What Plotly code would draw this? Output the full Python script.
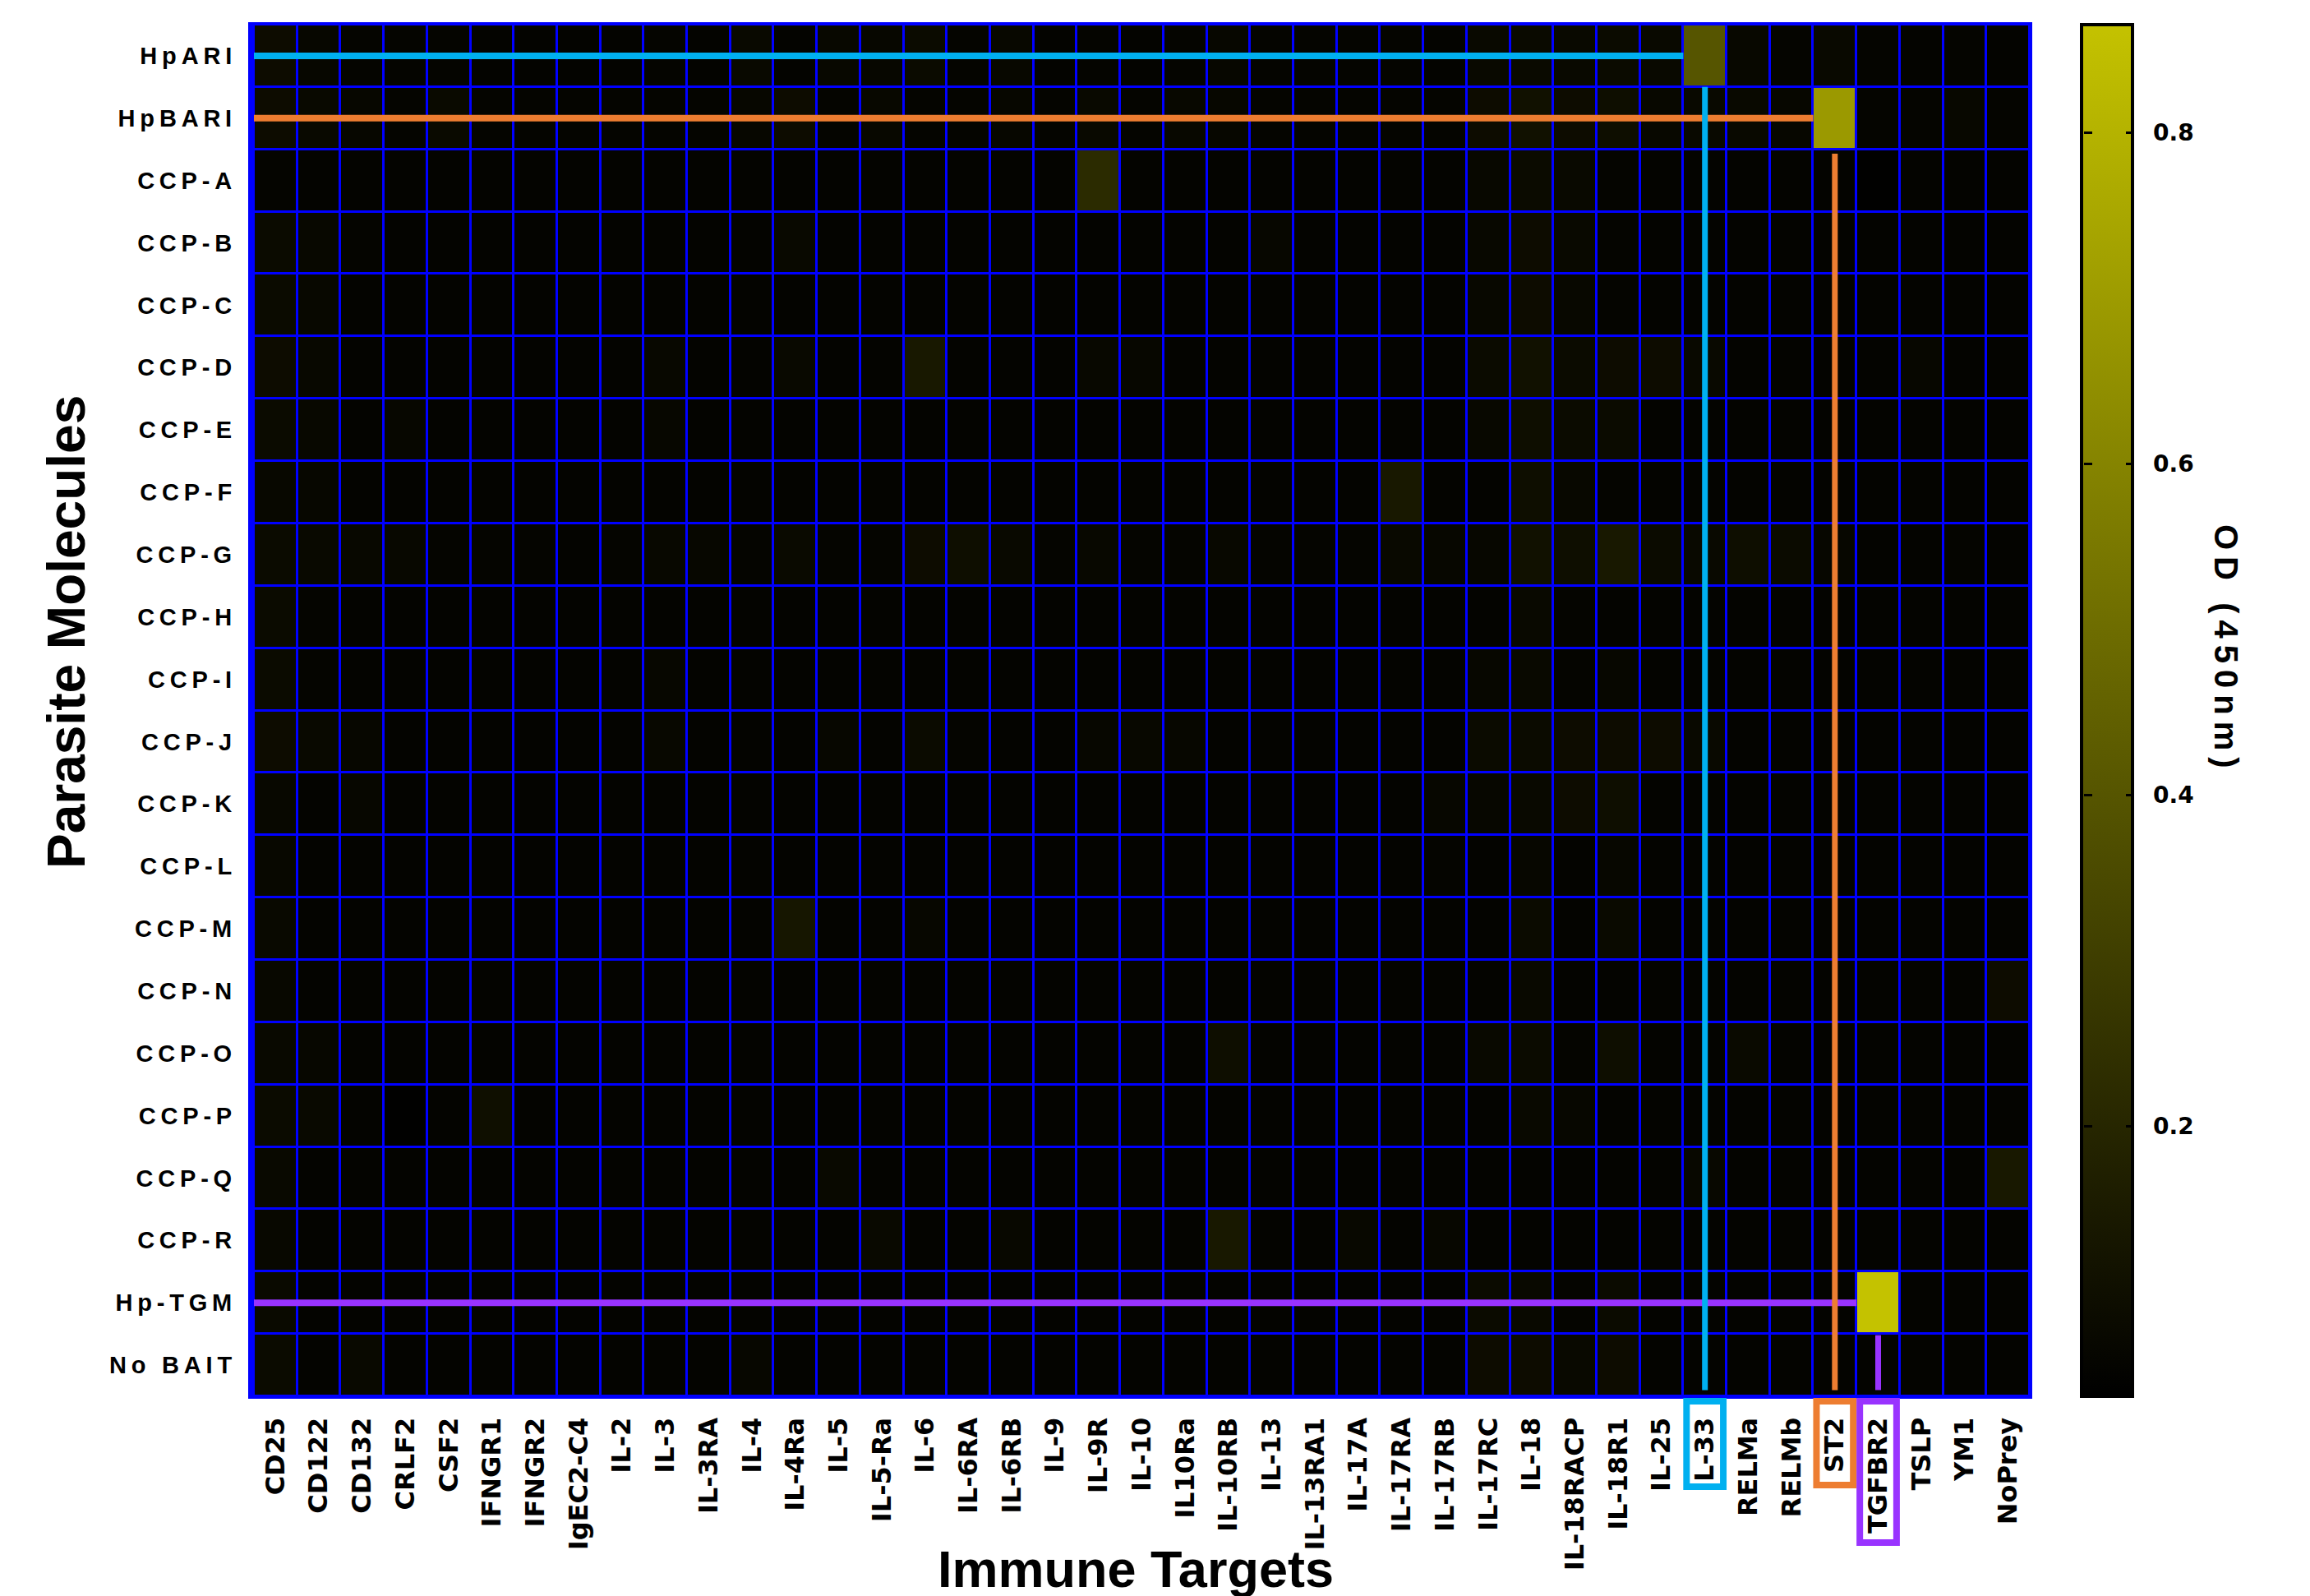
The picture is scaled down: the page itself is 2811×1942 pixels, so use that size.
import plotly.graph_objects as go

# Parasite bait molecules (rows) and immune prey targets (columns)
molecules = [
    "HpARI", "HpBARI", "CCP-A", "CCP-B", "CCP-C", "CCP-D", "CCP-E", "CCP-F",
    "CCP-G", "CCP-H", "CCP-I", "CCP-J", "CCP-K", "CCP-L", "CCP-M", "CCP-N",
    "CCP-O", "CCP-P", "CCP-Q", "CCP-R", "Hp-TGM", "No BAIT",
]
targets = [
    "CD25", "CD122", "CD132", "CRLF2", "CSF2", "IFNGR1", "IFNGR2", "IgEC2-C4",
    "IL-2", "IL-3", "IL-3RA", "IL-4", "IL-4Ra", "IL-5", "IL-5-Ra", "IL-6",
    "IL-6RA", "IL-6RB", "IL-9", "IL-9R", "IL-10", "IL10Ra", "IL-10RB", "IL-13",
    "IL-13RA1", "IL-17A", "IL-17RA", "IL-17RB", "IL-17RC", "IL-18", "IL-18RACP",
    "IL-18R1", "IL-25", "IL-33", "RELMa", "RELMb", "ST2", "TGFBR2", "TSLP",
    "YM1", "NoPrey",
]

# OD (450nm) readings, one list per bait, in target order
od_hpari = [0.090, 0.065, 0.060, 0.060, 0.060, 0.055, 0.055, 0.055, 0.055, 0.060,
            0.055, 0.075, 0.055, 0.070, 0.065, 0.085, 0.060, 0.070, 0.055, 0.060,
            0.055, 0.060, 0.065, 0.060, 0.060, 0.060, 0.060, 0.055, 0.075, 0.080,
            0.075, 0.085, 0.075, 0.400, 0.070, 0.060, 0.075, 0.060, 0.055, 0.060, 0.055]
od_hpbari = [0.090, 0.075, 0.065, 0.060, 0.080, 0.060, 0.060, 0.060, 0.060, 0.060,
             0.060, 0.065, 0.090, 0.060, 0.070, 0.060, 0.060, 0.065, 0.060, 0.075,
             0.060, 0.070, 0.065, 0.060, 0.060, 0.060, 0.060, 0.060, 0.090, 0.110,
             0.090, 0.095, 0.070, 0.075, 0.075, 0.065, 0.690, 0.060, 0.060, 0.070, 0.060]
od_ccp_a = [0.060, 0.055, 0.055, 0.055, 0.055, 0.055, 0.055, 0.055, 0.055, 0.055,
            0.055, 0.055, 0.055, 0.055, 0.055, 0.055, 0.055, 0.055, 0.055, 0.220,
            0.055, 0.055, 0.055, 0.055, 0.055, 0.055, 0.055, 0.055, 0.070, 0.085,
            0.075, 0.060, 0.055, 0.055, 0.055, 0.055, 0.055, 0.040, 0.055, 0.055, 0.055]
od_ccp_b = [0.085, 0.070, 0.060, 0.055, 0.055, 0.055, 0.055, 0.055, 0.055, 0.055,
            0.055, 0.055, 0.075, 0.055, 0.055, 0.055, 0.055, 0.055, 0.055, 0.055,
            0.055, 0.055, 0.055, 0.065, 0.055, 0.055, 0.055, 0.055, 0.070, 0.090,
            0.075, 0.060, 0.055, 0.055, 0.055, 0.055, 0.055, 0.055, 0.055, 0.055, 0.055]
od_ccp_c = [0.085, 0.070, 0.055, 0.055, 0.055, 0.055, 0.055, 0.055, 0.055, 0.055,
            0.055, 0.055, 0.055, 0.055, 0.055, 0.055, 0.055, 0.055, 0.055, 0.055,
            0.055, 0.055, 0.055, 0.055, 0.055, 0.055, 0.055, 0.055, 0.070, 0.090,
            0.070, 0.060, 0.055, 0.055, 0.055, 0.055, 0.055, 0.055, 0.055, 0.055, 0.055]
od_ccp_d = [0.090, 0.070, 0.055, 0.055, 0.055, 0.055, 0.055, 0.055, 0.055, 0.070,
            0.055, 0.055, 0.075, 0.055, 0.055, 0.140, 0.055, 0.055, 0.055, 0.070,
            0.065, 0.055, 0.055, 0.055, 0.055, 0.055, 0.055, 0.055, 0.085, 0.110,
            0.085, 0.090, 0.090, 0.075, 0.055, 0.055, 0.055, 0.055, 0.065, 0.055, 0.055]
od_ccp_e = [0.085, 0.070, 0.055, 0.065, 0.055, 0.055, 0.055, 0.055, 0.055, 0.065,
            0.055, 0.055, 0.055, 0.055, 0.055, 0.055, 0.055, 0.055, 0.055, 0.055,
            0.055, 0.055, 0.055, 0.055, 0.055, 0.055, 0.055, 0.055, 0.070, 0.095,
            0.085, 0.085, 0.055, 0.055, 0.055, 0.055, 0.055, 0.055, 0.055, 0.055, 0.055]
od_ccp_f = [0.070, 0.065, 0.055, 0.055, 0.055, 0.055, 0.055, 0.055, 0.055, 0.055,
            0.055, 0.055, 0.055, 0.055, 0.055, 0.055, 0.055, 0.055, 0.055, 0.055,
            0.055, 0.055, 0.055, 0.055, 0.055, 0.055, 0.140, 0.055, 0.055, 0.095,
            0.070, 0.060, 0.055, 0.055, 0.055, 0.055, 0.055, 0.055, 0.055, 0.055, 0.055]
od_ccp_g = [0.085, 0.075, 0.070, 0.070, 0.060, 0.060, 0.060, 0.055, 0.060, 0.070,
            0.065, 0.060, 0.080, 0.060, 0.060, 0.090, 0.095, 0.075, 0.060, 0.070,
            0.060, 0.060, 0.070, 0.060, 0.060, 0.060, 0.075, 0.065, 0.065, 0.110,
            0.095, 0.140, 0.085, 0.075, 0.095, 0.085, 0.065, 0.055, 0.055, 0.060, 0.055]
od_ccp_h = [0.085, 0.060, 0.055, 0.055, 0.055, 0.055, 0.055, 0.055, 0.055, 0.055,
            0.055, 0.055, 0.055, 0.055, 0.055, 0.055, 0.055, 0.055, 0.055, 0.055,
            0.055, 0.055, 0.055, 0.055, 0.055, 0.055, 0.055, 0.055, 0.055, 0.075,
            0.060, 0.055, 0.055, 0.055, 0.055, 0.055, 0.055, 0.055, 0.055, 0.055, 0.055]
od_ccp_i = [0.085, 0.060, 0.055, 0.055, 0.055, 0.055, 0.055, 0.055, 0.055, 0.065,
            0.055, 0.055, 0.055, 0.055, 0.055, 0.055, 0.055, 0.055, 0.055, 0.055,
            0.055, 0.055, 0.055, 0.055, 0.055, 0.055, 0.055, 0.055, 0.065, 0.075,
            0.060, 0.065, 0.055, 0.055, 0.055, 0.055, 0.055, 0.055, 0.055, 0.055, 0.055]
od_ccp_j = [0.090, 0.075, 0.065, 0.055, 0.055, 0.055, 0.055, 0.055, 0.055, 0.070,
            0.055, 0.055, 0.055, 0.065, 0.055, 0.085, 0.060, 0.055, 0.055, 0.065,
            0.070, 0.065, 0.055, 0.055, 0.055, 0.055, 0.055, 0.055, 0.085, 0.085,
            0.090, 0.090, 0.090, 0.075, 0.055, 0.055, 0.055, 0.055, 0.055, 0.055, 0.055]
od_ccp_k = [0.070, 0.055, 0.065, 0.055, 0.055, 0.055, 0.055, 0.055, 0.055, 0.055,
            0.055, 0.055, 0.055, 0.055, 0.055, 0.055, 0.055, 0.055, 0.055, 0.055,
            0.055, 0.055, 0.055, 0.055, 0.055, 0.055, 0.055, 0.065, 0.065, 0.075,
            0.090, 0.095, 0.055, 0.055, 0.055, 0.055, 0.055, 0.055, 0.055, 0.055, 0.055]
od_ccp_l = [0.070, 0.055, 0.055, 0.055, 0.055, 0.055, 0.055, 0.055, 0.055, 0.055,
            0.055, 0.055, 0.055, 0.055, 0.055, 0.055, 0.055, 0.055, 0.055, 0.055,
            0.055, 0.055, 0.055, 0.055, 0.055, 0.055, 0.055, 0.060, 0.055, 0.065,
            0.055, 0.065, 0.055, 0.055, 0.055, 0.055, 0.055, 0.055, 0.055, 0.055, 0.055]
od_ccp_m = [0.075, 0.055, 0.055, 0.055, 0.055, 0.055, 0.055, 0.055, 0.055, 0.055,
            0.055, 0.055, 0.130, 0.055, 0.055, 0.065, 0.055, 0.055, 0.055, 0.055,
            0.055, 0.055, 0.055, 0.055, 0.055, 0.055, 0.055, 0.055, 0.055, 0.085,
            0.055, 0.080, 0.055, 0.055, 0.055, 0.055, 0.055, 0.055, 0.055, 0.055, 0.055]
od_ccp_n = [0.070, 0.055, 0.055, 0.055, 0.055, 0.055, 0.055, 0.055, 0.055, 0.055,
            0.055, 0.055, 0.055, 0.055, 0.055, 0.055, 0.055, 0.055, 0.055, 0.055,
            0.055, 0.055, 0.055, 0.055, 0.055, 0.055, 0.055, 0.055, 0.055, 0.075,
            0.055, 0.055, 0.055, 0.055, 0.055, 0.055, 0.055, 0.055, 0.055, 0.055, 0.090]
od_ccp_o = [0.075, 0.065, 0.055, 0.055, 0.055, 0.055, 0.055, 0.055, 0.055, 0.055,
            0.055, 0.055, 0.055, 0.055, 0.055, 0.055, 0.055, 0.055, 0.055, 0.055,
            0.055, 0.055, 0.095, 0.055, 0.055, 0.055, 0.055, 0.055, 0.075, 0.085,
            0.060, 0.095, 0.055, 0.055, 0.080, 0.055, 0.055, 0.055, 0.055, 0.055, 0.055]
od_ccp_p = [0.085, 0.075, 0.055, 0.040, 0.055, 0.100, 0.055, 0.055, 0.055, 0.055,
            0.055, 0.055, 0.055, 0.055, 0.055, 0.055, 0.055, 0.055, 0.055, 0.055,
            0.055, 0.055, 0.055, 0.055, 0.055, 0.055, 0.055, 0.055, 0.055, 0.075,
            0.065, 0.055, 0.055, 0.055, 0.055, 0.055, 0.055, 0.055, 0.055, 0.055, 0.055]
od_ccp_q = [0.075, 0.055, 0.055, 0.055, 0.055, 0.055, 0.055, 0.055, 0.055, 0.055,
            0.055, 0.055, 0.055, 0.075, 0.055, 0.055, 0.055, 0.055, 0.055, 0.055,
            0.055, 0.055, 0.055, 0.055, 0.055, 0.055, 0.055, 0.055, 0.055, 0.055,
            0.055, 0.055, 0.055, 0.070, 0.055, 0.055, 0.055, 0.055, 0.055, 0.055, 0.140]
od_ccp_r = [0.070, 0.055, 0.055, 0.055, 0.055, 0.055, 0.055, 0.055, 0.055, 0.055,
            0.055, 0.055, 0.055, 0.055, 0.075, 0.055, 0.055, 0.070, 0.055, 0.055,
            0.055, 0.055, 0.140, 0.055, 0.055, 0.070, 0.055, 0.065, 0.055, 0.055,
            0.055, 0.055, 0.055, 0.055, 0.055, 0.055, 0.055, 0.055, 0.055, 0.055, 0.055]
od_hp_tgm = [0.080, 0.055, 0.055, 0.055, 0.055, 0.055, 0.055, 0.055, 0.055, 0.055,
             0.055, 0.055, 0.055, 0.055, 0.055, 0.055, 0.055, 0.055, 0.055, 0.055,
             0.055, 0.055, 0.055, 0.055, 0.055, 0.055, 0.055, 0.055, 0.085, 0.075,
             0.060, 0.085, 0.055, 0.055, 0.055, 0.055, 0.055, 0.865, 0.055, 0.055, 0.055]
od_no_bait = [0.085, 0.055, 0.075, 0.055, 0.055, 0.055, 0.055, 0.055, 0.055, 0.055,
              0.055, 0.065, 0.055, 0.055, 0.055, 0.055, 0.055, 0.055, 0.055, 0.055,
              0.055, 0.055, 0.055, 0.055, 0.055, 0.055, 0.055, 0.055, 0.090, 0.090,
              0.075, 0.090, 0.055, 0.055, 0.055, 0.055, 0.055, 0.055, 0.055, 0.055, 0.055]

od_matrix = [od_hpari, od_hpbari, od_ccp_a, od_ccp_b, od_ccp_c, od_ccp_d, od_ccp_e,
             od_ccp_f, od_ccp_g, od_ccp_h, od_ccp_i, od_ccp_j, od_ccp_k, od_ccp_l,
             od_ccp_m, od_ccp_n, od_ccp_o, od_ccp_p, od_ccp_q, od_ccp_r, od_hp_tgm,
             od_no_bait]

colorbar_ticks = [0.2, 0.4, 0.6, 0.8]

# Highlighted bait -> prey hits
hits = [("HpARI", "IL-33"), ("HpBARI", "ST2"), ("Hp-TGM", "TGFBR2")]
hit_colors = ["#00B0F0", "#ED7D31", "#9933FF"]

# ---- layout geometry (pixels) ----
W, H = 2811, 1942
ML, MR, MT, MB = 305, 341, 30, 243
PW, PH = W - ML - MR, H - MT - MB
ZMIN, ZMAX = 0.037, 0.865

BLUE = "#0000FF"
BOLD = "Liberation Sans"
WIDE = "DejaVu Sans"
CLEAR = "rgba(0,0,0,0)"

CB_LEFT_PX = 2533      # outer left edge of the colour bar
CB_THICK = 62
CB_OUTLINE = 4
CB_TICK = 10

THIN = "\u2009"


def spaced(label):
    """Open up the letter spacing of a label with thin spaces."""
    return THIN.join(label)


def px_to_paper_x(px):
    return (px - ML) / PW


fig = go.Figure()

fig.add_trace(go.Heatmap(
    z=od_matrix,
    x=targets,
    y=molecules,
    zmin=ZMIN,
    zmax=ZMAX,
    colorscale=[[0.0, "#000000"], [1.0, "#C4C200"]],
    xgap=3,
    ygap=3,
    hoverongaps=False,
    colorbar=dict(
        x=px_to_paper_x(CB_LEFT_PX),
        xanchor="left",
        xpad=0,
        y=0.5,
        yanchor="middle",
        len=1.0,
        lenmode="fraction",
        ypad=0,
        thickness=CB_THICK,
        outlinewidth=CB_OUTLINE,
        outlinecolor="#000000",
        tickvals=colorbar_ticks,
        ticks="outside",
        ticklen=18,
        tickwidth=1,
        tickcolor=CLEAR,
        tickfont=dict(family=WIDE, size=28, color="#000000", weight="bold"),
    ),
))


def tick_only_colorbar(thickness, ticks):
    """A transparent colour bar that only contributes tick marks."""
    return go.Scatter(
        x=[None], y=[None], mode="markers", hoverinfo="skip", showlegend=False,
        marker=dict(
            color=[ZMIN], cmin=ZMIN, cmax=ZMAX,
            colorscale=[[0.0, CLEAR], [1.0, CLEAR]],
            showscale=True,
            colorbar=dict(
                x=px_to_paper_x(CB_LEFT_PX), xanchor="left", xpad=0,
                y=0.5, yanchor="middle", len=1.0, lenmode="fraction", ypad=0,
                thickness=thickness, outlinewidth=CB_OUTLINE, outlinecolor=CLEAR,
                tickvals=colorbar_ticks, ticks=ticks, ticklen=CB_TICK, tickwidth=3,
                tickcolor="#000000", showticklabels=False,
            ),
        ),
    )


# tick marks on the right and left inner edges of the colour bar
fig.add_trace(tick_only_colorbar(CB_THICK, "inside"))
fig.add_trace(tick_only_colorbar(1, "outside"))

fig.update_xaxes(
    type="category",
    tickangle=-90,
    tickfont=dict(family=WIDE, size=32, color="#000000", weight="bold"),
    ticks="",
    ticklabelstandoff=10,
    showgrid=False,
    zeroline=False,
    showline=True,
    linecolor=BLUE,
    linewidth=3,
    mirror=True,
    automargin=False,
)
fig.update_yaxes(
    type="category",
    autorange="reversed",
    tickmode="array",
    tickvals=molecules,
    ticktext=[spaced(m) for m in molecules],
    tickfont=dict(family=BOLD, size=29, color="#000000", weight="bold"),
    ticks="",
    ticklabelstandoff=14,
    showgrid=False,
    zeroline=False,
    showline=True,
    linecolor=BLUE,
    linewidth=3,
    mirror=True,
    automargin=False,
)

shapes = []
row_of = {m: i for i, m in enumerate(molecules)}
col_of = {t: i for i, t in enumerate(targets)}
bottom = len(molecules) - 0.5
line_w = 8

# horizontal leaders from the y axis to each hit cell
for (bait, prey), color in zip(hits, hit_colors):
    r, c = row_of[bait], col_of[prey]
    shapes.append(dict(type="line", xref="x", yref="y", x0=-0.5, x1=c - 0.5,
                       y0=r, y1=r, line=dict(color=color, width=line_w), layer="above"))

# vertical drops from each hit cell towards its x label
drop_gap = {"IL-33": 0.0, "ST2": 0.07, "TGFBR2": 0.02}
for (bait, prey), color in zip(hits, hit_colors):
    r, c = row_of[bait], col_of[prey]
    shapes.append(dict(type="line", xref="x", yref="y", x0=c, x1=c,
                       y0=r + 0.5 + drop_gap[prey], y1=bottom - 0.1,
                       line=dict(color=color, width=line_w - 1), layer="above"))

# frames around the highlighted x labels (depth below the plot, px)
frame_depth = {"IL-33": 112, "ST2": 110, "TGFBR2": 180}
fw = 8
half_col = 0.5 - (fw / 2) / (PW / len(targets))
for (bait, prey), color in zip(hits, hit_colors):
    c = col_of[prey]
    shapes.append(dict(type="rect", xref="x", yref="paper",
                       x0=c - half_col, x1=c + half_col,
                       y0=-(2 + fw / 2) / PH, y1=-(frame_depth[prey] + 2 - fw / 2) / PH,
                       line=dict(color=color, width=fw), fillcolor=CLEAR,
                       layer="above"))

annotations = [
    dict(text="Parasite Molecules", textangle=-90, xref="paper", yref="paper",
         x=px_to_paper_x(81), y=(MT + PH - 769) / PH, xanchor="center", yanchor="middle",
         showarrow=False, font=dict(family=BOLD, size=64, color="#000000", weight="bold")),
    dict(text="Immune Targets", xref="paper", yref="paper",
         x=px_to_paper_x(1382), y=(MT + PH - 1872) / PH, xanchor="center", yanchor="top",
         showarrow=False, font=dict(family=BOLD, size=63, color="#000000", weight="bold")),
    dict(text=spaced("OD (450nm)"), textangle=90, xref="paper", yref="paper",
         x=px_to_paper_x(2709), y=(MT + PH - 786) / PH, xanchor="center", yanchor="middle",
         showarrow=False, font=dict(family=BOLD, size=40, color="#000000", weight="bold")),
]

fig.update_layout(
    width=W,
    height=H,
    margin=dict(l=ML, r=MR, t=MT, b=MB, pad=0),
    paper_bgcolor="#FFFFFF",
    plot_bgcolor=BLUE,
    shapes=shapes,
    annotations=annotations,
    showlegend=False,
)

fig.write_html("out.html")
